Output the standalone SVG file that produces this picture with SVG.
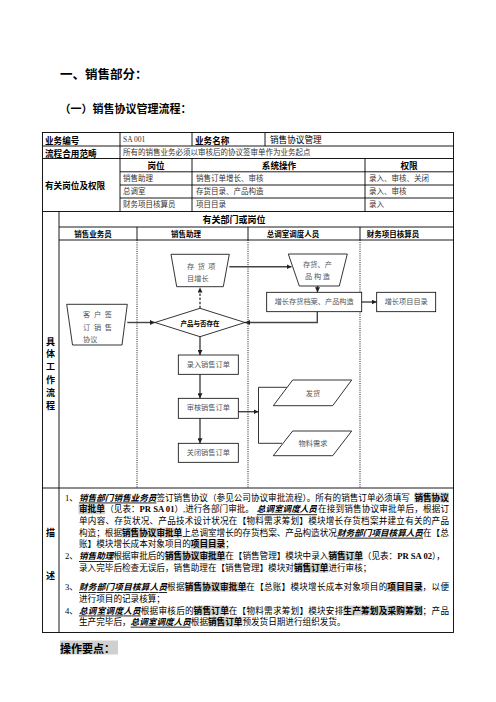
<svg xmlns="http://www.w3.org/2000/svg" width="496" height="702" viewBox="0 0 496 702">
<defs>
<style>
text{font-family:'Liberation Serif','Noto Sans CJK SC',sans-serif;fill:#000;dominant-baseline:central}
.h{font-family:'Noto Sans CJK SC',sans-serif;font-weight:bold}
.tb{font-family:'Noto Sans CJK SC',sans-serif;font-weight:bold;font-size:8.6px}
.tr{font-size:7.5px;fill:#333}
.d{font-size:8.6px}
.biu{font-weight:bold;font-style:italic;text-decoration:underline}
.bh{font-weight:bold}
.hl{fill:#d0d0d0}
.ln{stroke:#000;stroke-width:0.9;fill:none}
.dot{stroke:#000;stroke-width:0.9;stroke-dasharray:1 1.2;fill:none}
.node{fill:#fff;stroke:#000;stroke-width:0.8}
.lbl{font-size:7.2px;fill:#555}
.conn{stroke:#444;stroke-width:1.4;fill:none}
.thin{stroke:#000;stroke-width:0.8;fill:none}
</style>
<marker id="ah" viewBox="0 0 10 10" refX="10" refY="5" markerWidth="5" markerHeight="5" orient="auto" markerUnits="userSpaceOnUse"><path d="M0,0L10,5L0,10z" fill="#222"/></marker>
</defs>
<rect width="496" height="702" fill="#fff"/>

<g id="titles">
<text class="h" x="60" y="73" font-size="12.5">一、销售部分：</text>
<text class="h" x="59.5" y="108" font-size="11">（一）销售协议管理流程：</text>
<rect class="hl" x="60" y="640.5" width="58" height="14"/>
<text class="h" x="60" y="647.5" font-size="11">操作要点：</text>
</g>

<g id="table-grid">
<rect class="ln" x="42.5" y="132.5" width="411" height="500"/>
<line class="ln" x1="42.5" y1="146" x2="453.5" y2="146"/>
<line class="ln" x1="42.5" y1="158.5" x2="453.5" y2="158.5"/>
<line class="ln" x1="120" y1="171.8" x2="453.5" y2="171.8"/>
<line class="ln" x1="120" y1="185" x2="453.5" y2="185"/>
<line class="ln" x1="120" y1="198" x2="453.5" y2="198"/>
<line class="ln" x1="42.5" y1="211.5" x2="453.5" y2="211.5"/>
<line class="ln" x1="59" y1="227" x2="453.5" y2="227"/>
<line class="ln" x1="59" y1="240" x2="453.5" y2="240"/>
<line class="ln" x1="42.5" y1="488" x2="453.5" y2="488"/>
<line class="ln" x1="120" y1="132.5" x2="120" y2="211.5"/>
<line class="ln" x1="192" y1="132.5" x2="192" y2="146"/>
<line class="ln" x1="192" y1="158.5" x2="192" y2="211.5"/>
<line class="ln" x1="265" y1="132.5" x2="265" y2="146"/>
<line class="ln" x1="365" y1="158.5" x2="365" y2="211.5"/>
<line class="ln" x1="59" y1="211.5" x2="59" y2="632.5"/>
<line class="ln" x1="137" y1="227" x2="137" y2="240"/>
<line class="ln" x1="248" y1="227" x2="248" y2="240"/>
<line class="ln" x1="360" y1="227" x2="360" y2="240"/>
<line class="dot" x1="137" y1="240" x2="137" y2="488"/>
<line class="dot" x1="248" y1="240" x2="248" y2="488"/>
<line class="dot" x1="360" y1="240" x2="360" y2="488"/>
</g>

<g id="table-text">
<text class="tb" x="45" y="139.5">业务编号</text>
<text class="tr" x="123" y="139.5" font-size="7.8">SA 001</text>
<text class="tb" x="195" y="139.5">业务名称</text>
<text x="270" y="139.5" font-size="8.6" fill="#333">销售协议管理</text>
<text class="tb" x="45" y="152.5">流程合用范畴</text>
<text class="tr" x="123" y="152.5" font-size="7.6">所有的销售业务必须以审核后的协议签审单作为业务起点</text>
<text class="tb" x="45" y="185">有关岗位及权限</text>
<text class="tb" x="156" y="165.3" text-anchor="middle">岗位</text>
<text class="tb" x="279" y="165.3" text-anchor="middle">系统操作</text>
<text class="tb" x="409" y="165.3" text-anchor="middle">权限</text>
<text class="tr" x="123" y="178.4">销售助理</text>
<text class="tr" x="196" y="178.4">销售订单增长、审核</text>
<text class="tr" x="369" y="178.4">录入、审核、关闭</text>
<text class="tr" x="123" y="191.5">总调室</text>
<text class="tr" x="196" y="191.5">存货目录、产品构造</text>
<text class="tr" x="369" y="191.5">录入、审核</text>
<text class="tr" x="123" y="204.8">财务项目核算员</text>
<text class="tr" x="196" y="204.8">项目目录</text>
<text class="tr" x="369" y="204.8">录入</text>
<text class="h" x="234" y="219.5" font-size="9" text-anchor="middle">有关部门或岗位</text>
<text class="h" x="93" y="233.5" font-size="7.5" text-anchor="middle">销售业务员</text>
<text class="h" x="186" y="233.5" font-size="7.5" text-anchor="middle">销售助理</text>
<text class="h" x="293" y="233.5" font-size="7.5" text-anchor="middle">总调室调度人员</text>
<text class="h" x="393" y="233.5" font-size="7.5" text-anchor="middle">财务项目核算员</text>
<g class="h" font-size="9" text-anchor="middle">
<text class="h" x="50.5" y="341">具</text>
<text class="h" x="50.5" y="353.5">体</text>
<text class="h" x="50.5" y="366.5">工</text>
<text class="h" x="50.5" y="379">作</text>
<text class="h" x="50.5" y="392">流</text>
<text class="h" x="50.5" y="405">程</text>
<text class="h" x="50.5" y="532">描</text>
<text class="h" x="50.5" y="575">述</text>
</g>
</g>

<g id="connectors">
<line class="conn" x1="200" y1="308.3" x2="200" y2="287.5" stroke-dasharray="2.5 1.6" marker-end="url(#ah)"/>
<line class="conn" x1="127.3" y1="322.5" x2="155" y2="322.5" marker-end="url(#ah)"/>
<line class="conn" x1="229.3" y1="266.7" x2="291.5" y2="266.7" marker-end="url(#ah)"/>
<line class="conn" x1="317.5" y1="286" x2="317.5" y2="292.3" marker-end="url(#ah)"/>
<line class="conn" x1="361.7" y1="302" x2="376.7" y2="302" marker-end="url(#ah)"/>
<path class="conn" d="M317.3,311.7V322.5H245" marker-end="url(#ah)"/>
<line class="conn" x1="200" y1="336.7" x2="200" y2="355" marker-end="url(#ah)"/>
<line class="conn" x1="200" y1="374.3" x2="200" y2="398.3" marker-end="url(#ah)"/>
<line class="conn" x1="200" y1="418.3" x2="200" y2="443.3" marker-end="url(#ah)"/>
<line class="conn" x1="238.3" y1="411.7" x2="258.5" y2="411.7" marker-end="url(#ah)"/>
<path class="thin" d="M286.7,387.3H258.5V443.3H282"/>
</g>

<g id="n-stock-item">
<polygon class="node" points="171,254.3 229.3,254.3 223.3,286.7 176.7,286.7"/>
<text class="lbl" x="187" y="267" textLength="28.5" lengthAdjust="spacing">存货项</text>
<text class="lbl" x="187" y="278.5">目增长</text>
</g>
<g id="n-customer">
<polygon class="node" points="66.7,304.3 127.3,304.3 122,345 72.5,345"/>
<text class="lbl" x="83" y="315" textLength="29" lengthAdjust="spacing">客户签</text>
<text class="lbl" x="83" y="327.5" textLength="29" lengthAdjust="spacing">订销售</text>
<text class="lbl" x="83" y="340">协议</text>
</g>
<g id="n-decision">
<polygon class="node" points="155,322.5 200,308.3 245,322.5 200,336.7"/>
<text class="h" x="200" y="322.5" font-size="6.5" text-anchor="middle">产品与否存在</text>
</g>
<g id="n-stock-struct">
<polygon class="node" points="288.3,254 347.3,254 339.3,286 299.3,286"/>
<text class="lbl" x="303" y="264.5" textLength="29" lengthAdjust="spacing">存货、产</text>
<text class="lbl" x="305" y="277" textLength="25" lengthAdjust="spacing">品构造</text>
</g>
<g id="n-add-archive">
<rect class="node" x="266.7" y="292.3" width="95" height="19.4"/>
<text class="lbl" x="314.2" y="302" text-anchor="middle">增长存货档案、产品构造</text>
</g>
<g id="n-add-project">
<rect class="node" x="376.7" y="292.3" width="59" height="19.4"/>
<text class="lbl" x="406.2" y="302" text-anchor="middle">增长项目目录</text>
</g>
<g id="n-enter-order">
<rect class="node" x="178.3" y="355" width="60" height="19.3"/>
<text class="lbl" x="208.3" y="364.8" text-anchor="middle">录入销售订单</text>
</g>
<g id="n-audit-order">
<rect class="node" x="178.3" y="398.3" width="60" height="20"/>
<text class="lbl" x="208.3" y="408.3" text-anchor="middle">审核销售订单</text>
</g>
<g id="n-close-order">
<rect class="node" x="178.3" y="443.3" width="60" height="19"/>
<text class="lbl" x="208.3" y="452.8" text-anchor="middle">关闭销售订单</text>
</g>
<g id="n-ship">
<polygon class="node" points="292.7,380 351.7,380 332.7,405.7 273.3,405.7"/>
<text class="lbl" x="313" y="393.5" text-anchor="middle">发货</text>
</g>
<g id="n-material">
<polygon class="node" points="292.7,431 351.7,431 332.7,455.7 273.3,455.7"/>
<text class="lbl" x="313" y="444" text-anchor="middle">物料需求</text>
</g>

<g id="description" class="d">
<rect class="hl" x="414.4" y="492.5" width="34.6" height="10"/>
<rect class="hl" x="78.5" y="504.3" width="26.7" height="10"/>
<rect class="hl" x="122" y="527.7" width="60.2" height="10"/>
<rect class="hl" x="190.8" y="539.3" width="34.4" height="10"/>
<rect class="hl" x="165" y="551" width="60.2" height="10"/>
<rect class="hl" x="328.4" y="551" width="34.4" height="10"/>
<rect class="hl" x="294" y="562.7" width="34.4" height="10"/>
<rect class="hl" x="184.7" y="582" width="61.6" height="10"/>
<rect class="hl" x="387.3" y="582" width="35.2" height="10"/>
<rect class="hl" x="193.6" y="605.5" width="35.2" height="10"/>
<rect class="hl" x="343.3" y="605.5" width="79.3" height="10"/>
<rect class="hl" x="208" y="616.7" width="34.4" height="10"/>

<text class="d" x="65" y="497.5">1、</text>
<text class="d biu" x="79" y="497.5">销售部门销售业务员</text>
<text class="d" x="156.4" y="497.5">签订销售协议（参见公司协议审批流程）。所有的销售订单必须填写</text>
<text class="d bh" x="414.4" y="497.5">销售协议</text>

<text class="d bh" x="79" y="509.3">审批单</text>
<text class="d" x="105.2" y="509.3">（见表：<tspan font-weight="bold">PR SA 01</tspan>）,进行各部门审批。</text>
<text class="d biu" x="256.8" y="509.3">总调室调度人员</text>
<text class="d" x="318" y="509.3" textLength="131" lengthAdjust="spacing">在接到销售协议审批单后，根据订</text>

<text class="d" x="79" y="521" textLength="370" lengthAdjust="spacing">单内容、存货状况、产品技术设计状况在【物料需求筹划】模块增长存货档案并建立有关的产品</text>

<text class="d" x="79" y="532.7">构造；根据</text>
<text class="d bh" x="122" y="532.7">销售协议审批单</text>
<text class="d" x="182.2" y="532.7">上总调室增长的存货档案、产品构造状况</text>
<text class="d biu" x="337" y="532.7">财务部门项目核算人员</text>
<text class="d" x="423" y="532.7">在【总</text>

<text class="d" x="79" y="544.3">账】模块增长成本对象项目的</text>
<text class="d bh" x="190.8" y="544.3">项目目录</text>
<text class="d" x="225.2" y="544.3">；</text>

<text class="d" x="65" y="556">2、</text>
<text class="d biu" x="79" y="556">销售助理</text>
<text class="d" x="113.4" y="556">根据审批后的</text>
<text class="d bh" x="165" y="556">销售协议审批单</text>
<text class="d" x="225.2" y="556">在【销售管理】模块中录入</text>
<text class="d bh" x="328.4" y="556">销售订单</text>
<text class="d" x="362.8" y="556">（见表：<tspan font-weight="bold">PR SA 02</tspan>），</text>

<text class="d" x="79" y="567.7">录入完毕后检查无误后，销售助理在【销售管理】模块对</text>
<text class="d bh" x="294" y="567.7">销售订单</text>
<text class="d" x="328.4" y="567.7">进行审核；</text>

<text class="d" x="65" y="587">3、</text>
<text class="d biu" x="79" y="587" textLength="88.1" lengthAdjust="spacing">财务部门项目核算人员</text>
<text class="d" x="167.1" y="587" textLength="17.6" lengthAdjust="spacing">根据</text>
<text class="d bh" x="184.7" y="587" textLength="61.6" lengthAdjust="spacing">销售协议审批单</text>
<text class="d" x="246.3" y="587" textLength="141" lengthAdjust="spacing">在【总账】模块增长成本对象项目的</text>
<text class="d bh" x="387.3" y="587" textLength="35.2" lengthAdjust="spacing">项目目录</text>
<text class="d" x="422.5" y="587" textLength="26.5" lengthAdjust="spacing">，以便</text>

<text class="d" x="79" y="598.5">进行项目的记录核算；</text>

<text class="d" x="65" y="610.5">4、</text>
<text class="d biu" x="79" y="610.5" textLength="61.7" lengthAdjust="spacing">总调室调度人员</text>
<text class="d" x="140.7" y="610.5" textLength="52.9" lengthAdjust="spacing">根据审核后的</text>
<text class="d bh" x="193.6" y="610.5" textLength="35.2" lengthAdjust="spacing">销售订单</text>
<text class="d" x="228.8" y="610.5" textLength="114.5" lengthAdjust="spacing">在【物料需求筹划】模块安排</text>
<text class="d bh" x="343.3" y="610.5" textLength="79.3" lengthAdjust="spacing">生产筹划及采购筹划</text>
<text class="d" x="422.6" y="610.5" textLength="26.4" lengthAdjust="spacing">；产品</text>

<text class="d" x="79" y="621.7">生产完毕后，</text>
<text class="d biu" x="130.6" y="621.7">总调室调度人员</text>
<text class="d" x="190.8" y="621.7">根据</text>
<text class="d bh" x="208" y="621.7">销售订单</text>
<text class="d" x="242.4" y="621.7">预发货日期进行组织发货。</text>
</g>
</svg>
